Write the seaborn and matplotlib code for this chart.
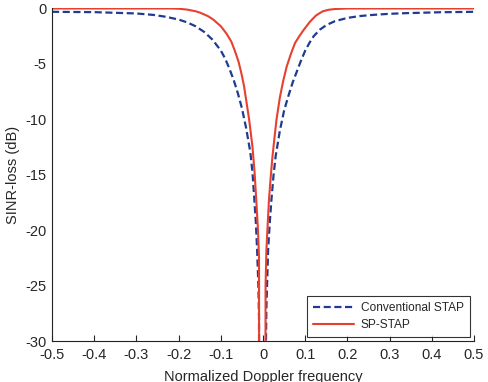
import numpy as np
import pandas as pd
import matplotlib
matplotlib.use("Agg")
import matplotlib.pyplot as plt
import seaborn as sns

# values
doppler_conv = [-0.5, -0.4, -0.3, -0.26, -0.23, -0.2, -0.18, -0.16, -0.14, -0.12,
                -0.1, -0.09, -0.08, -0.07, -0.06, -0.05, -0.04, -0.03, -0.025, -0.021,
                -0.017, -0.014, -0.011, -0.0095, -0.009,
                0.0,
                0.0065, 0.007, 0.008, 0.012, 0.016, 0.02, 0.025, 0.03, 0.04, 0.05,
                0.06, 0.07, 0.08, 0.09, 0.1, 0.11, 0.12, 0.135, 0.15, 0.17,
                0.2, 0.23, 0.26, 0.3, 0.34, 0.42, 0.5]
loss_conv = [-0.3, -0.33, -0.45, -0.58, -0.75, -1.0, -1.25, -1.6, -2.1, -2.8,
             -3.8, -4.5, -5.4, -6.4, -7.6, -9.0, -10.8, -13.0, -14.8, -17.0,
             -19.3, -21.8, -25.0, -28.0, -45.0,
             -50.0,
             -45.0, -30.0, -27.0, -21.8, -19.3, -17.2, -15.0, -13.3, -11.0, -9.2,
             -7.9, -6.7, -5.7, -4.7, -3.8, -3.1, -2.5, -1.9, -1.5, -1.15,
             -0.85, -0.68, -0.58, -0.48, -0.42, -0.34, -0.3]

doppler_sp = [-0.5, -0.22, -0.2, -0.18, -0.16, -0.149, -0.13, -0.118, -0.1, -0.086,
              -0.075, -0.067, -0.058, -0.051, -0.045, -0.041, -0.033, -0.025, -0.02,
              -0.016, -0.012, -0.0095, -0.009,
              0.0,
              0.0055, 0.006, 0.008, 0.011, 0.014, 0.018, 0.022, 0.027, 0.032, 0.04,
              0.048, 0.056, 0.066, 0.076, 0.086, 0.096, 0.111, 0.125, 0.135, 0.142,
              0.155, 0.17, 0.2, 0.5]
loss_sp = [0.0, 0.0, -0.02, -0.1, -0.25, -0.38, -0.7, -1.0, -1.6, -2.3,
           -3.0, -3.8, -4.8, -5.9, -7.0, -8.0, -10.0, -12.5, -14.8,
           -17.3, -20.0, -22.5, -45.0,
           -50.0,
           -45.0, -25.0, -21.8, -19.5, -17.3, -15.3, -13.5, -11.7, -10.0, -8.0,
           -6.5, -5.25, -4.1, -3.1, -2.5, -1.95, -1.2, -0.65, -0.4, -0.25,
           -0.12, -0.05, 0.0, 0.0]

xticks = [-0.5, -0.4, -0.3, -0.2, -0.1, 0.0, 0.1, 0.2, 0.3, 0.4, 0.5]
xticklabels = ["-0.5", "-0.4", "-0.3", "-0.2", "-0.1", "0", "0.1", "0.2", "0.3", "0.4", "0.5"]
yticks = [-30, -25, -20, -15, -10, -5, 0]

df_conv = pd.DataFrame({"f": doppler_conv, "loss": loss_conv})
df_sp = pd.DataFrame({"f": doppler_sp, "loss": loss_sp})

sns.set_style("ticks")
plt.rcParams["font.family"] = ["Liberation Sans", "DejaVu Sans"]
plt.rcParams["axes.unicode_minus"] = False

fig = plt.figure(figsize=(4.88, 3.82), dpi=100)
ax = fig.add_axes([0.1066, 0.1073, 0.8648, 0.8705])

sns.lineplot(data=df_conv, x="f", y="loss", ax=ax, sort=False, color="#1f3b92",
             linestyle=(0, (3.2, 1.6)), linewidth=1.6, label="Conventional STAP")
sns.lineplot(data=df_sp, x="f", y="loss", ax=ax, sort=False, color="#e8402f",
             linewidth=1.5, label="SP-STAP")

ax.set_xlim(-0.5, 0.5)
ax.set_ylim(-30, 0)
ax.set_xticks(xticks)
ax.set_xticklabels(xticklabels)
ax.set_yticks(yticks)
ax.tick_params(axis="x", direction="in", length=4, width=0.8, labelsize=10.5, pad=5)
ax.tick_params(axis="y", direction="in", length=0, labelsize=10.5, pad=4)
sns.despine(ax=ax)
for s in ["left", "bottom"]:
    ax.spines[s].set_linewidth(0.8)
    ax.spines[s].set_color("#222222")

ax.set_xlabel("Normalized Doppler frequency", fontsize=10.5, labelpad=6)
ax.set_ylabel("SINR-loss (dB)", fontsize=10.5, labelpad=4)

leg = ax.legend(loc="lower right", bbox_to_anchor=(0.99, 0.012), fontsize=8.6,
                frameon=True, fancybox=False, handlelength=3.4, borderpad=0.5,
                labelspacing=0.4, handletextpad=0.6, borderaxespad=0)
leg.get_frame().set_edgecolor("black")
leg.get_frame().set_linewidth(0.8)

fig.savefig("out.png", dpi=100)
